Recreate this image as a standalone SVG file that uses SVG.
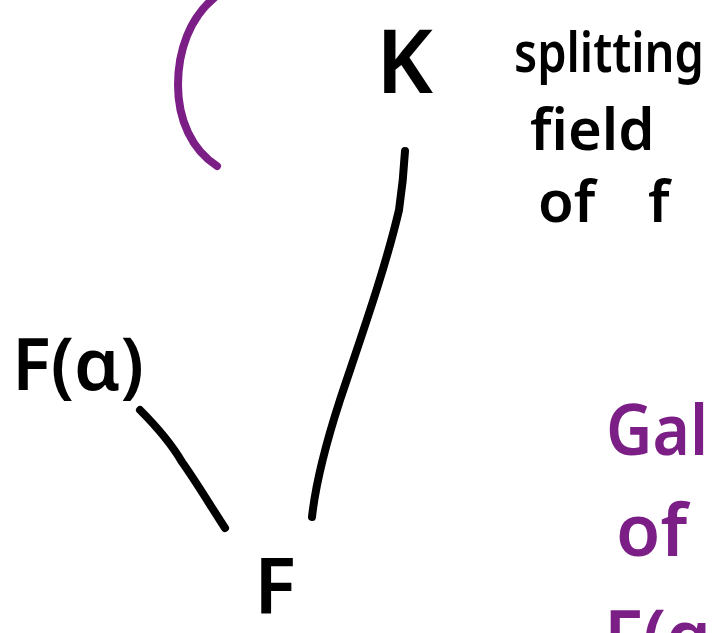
<svg xmlns="http://www.w3.org/2000/svg" width="714" height="633" viewBox="0 0 714 633">
<style>
.t{font-family:"Noto Sans","Liberation Sans",sans-serif;font-weight:600;fill:#000}
.p{font-family:"Noto Sans","Liberation Sans",sans-serif;font-weight:600;fill:#7b1f86}
.ln{fill:none;stroke:#000;stroke-width:8;stroke-linecap:round;stroke-linejoin:round}
.arc{fill:none;stroke:#7b1f86;stroke-width:8;stroke-linecap:round}
</style>
<rect width="714" height="633" fill="#fff"/>
<path class="arc" d="M214,-2 C190,18 178,50 178,85 C178,120 192,150 217,166"/>
<g id="connectors">
<path class="ln" d="M405,151 C404,170 402,190 399,210 C385,270 360,340 340,400 C327,440 316,480 312,517"/>
<path class="ln" d="M140,410 C160,430 175,450 182,462 M182,462 C195,480 210,505 225,528"/>
</g>
<g id="K"><text class="t" x="376" y="93" font-size="88">K</text></g>
<g id="splitting-field">
<text class="t" font-size="56" x="514" y="72" textLength="190" lengthAdjust="spacingAndGlyphs">splitting</text>
<text class="t" font-size="58" x="530" y="150">field</text>
<text class="t" font-size="58" x="538" y="222">of</text>
<text class="t" font-size="58" x="648" y="222">f</text>
</g>
<g id="Falpha"><text class="t" x="12" y="390" font-size="72">F(α)</text></g>
<g id="F"><text class="t" x="254" y="614" font-size="78">F</text></g>
<g id="gal">
<text class="p" font-size="70" x="606" y="455" textLength="102" lengthAdjust="spacingAndGlyphs">Gal</text>
<text class="p" font-size="72" x="616" y="556">of</text>
<text class="p" font-size="72" x="604" y="662">F(α)</text>
</g>
</svg>
